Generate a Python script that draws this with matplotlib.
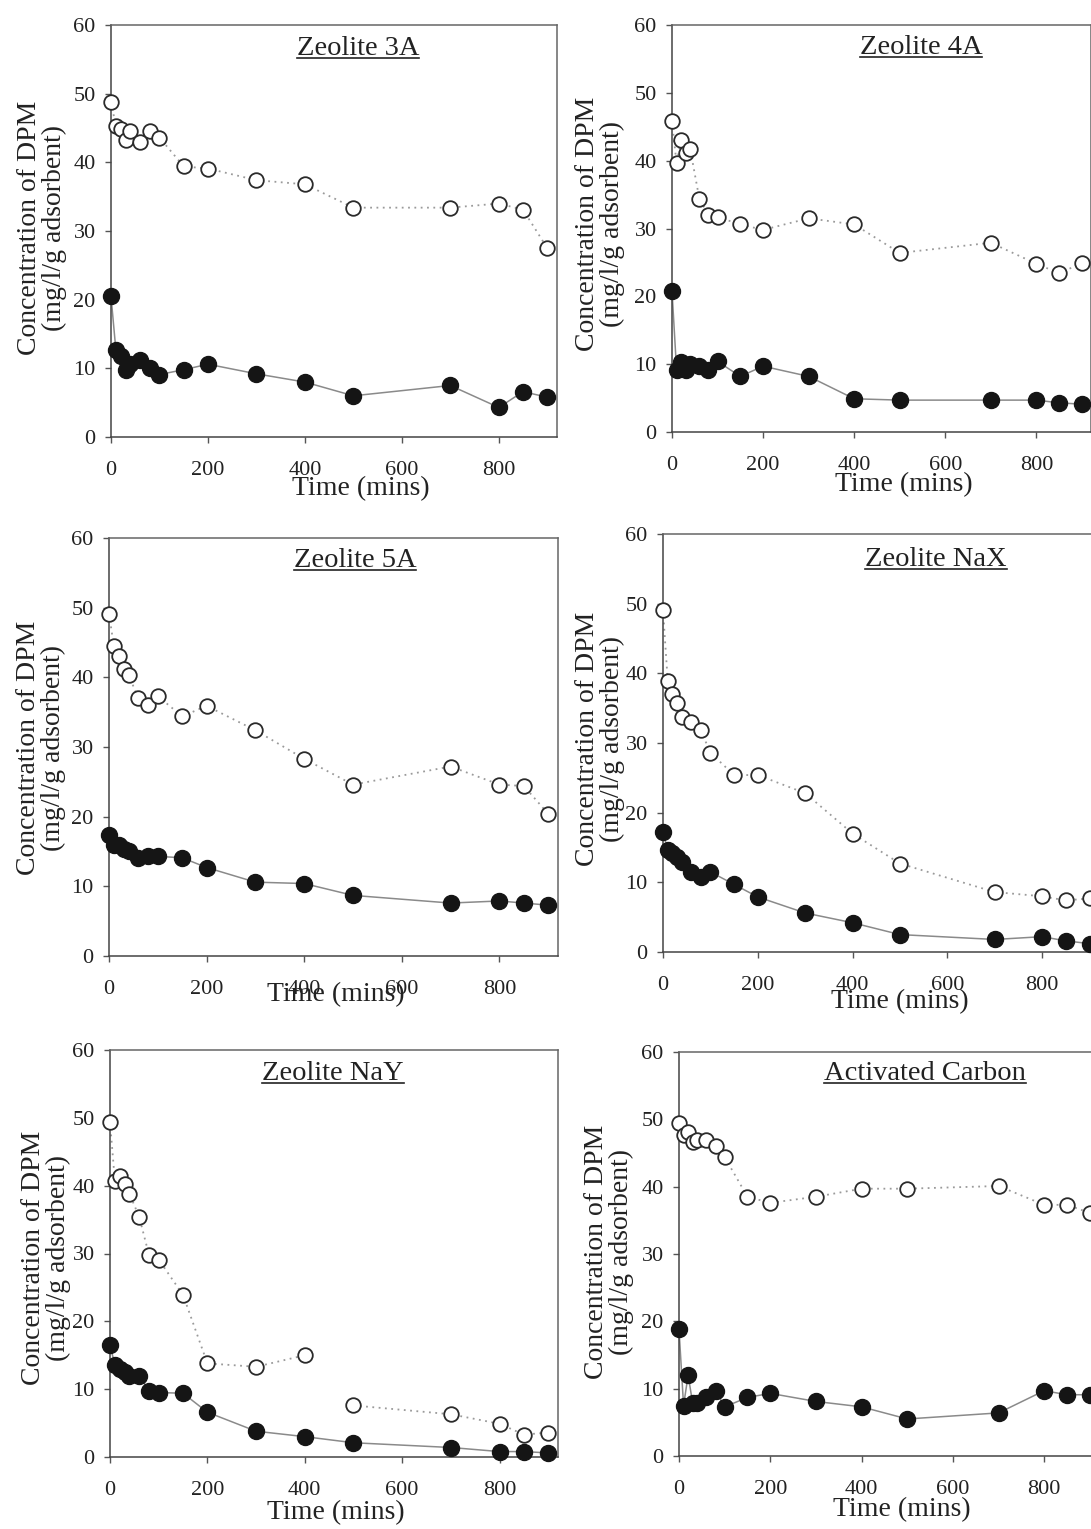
import numpy as np
import matplotlib.pyplot as plt
from matplotlib.lines import Line2D

W, H = 1091, 1529

# sampling times (mins), same for every adsorbent
time = [0, 10, 20, 30, 40, 60, 80, 100, 150, 200, 300, 400, 500, 700, 800, 850, 900]

# open circles (upper series) and filled circles (lower series)
open_3a = [48.8, 45.3, 44.8, 43.3, 44.5, 43.0, 44.5, 43.6, 39.4, 39.1, 37.4, 36.8, 33.4, 33.4, 34.0, 33.1, 27.5]
fill_3a = [20.5, 12.7, 11.8, 9.8, 10.7, 11.2, 10.0, 9.1, 9.8, 10.6, 9.2, 8.0, 6.0, 7.5, 4.3, 6.6, 5.8]

open_4a = [45.8, 39.6, 43.1, 41.1, 41.7, 34.4, 32.0, 31.7, 30.6, 29.8, 31.5, 30.6, 26.4, 27.9, 24.8, 23.4, 24.9]
fill_4a = [20.8, 9.2, 10.3, 9.1, 10.0, 9.8, 9.1, 10.4, 8.2, 9.7, 8.2, 4.9, 4.7, 4.7, 4.7, 4.3, 4.1]

open_5a = [49.1, 44.5, 43.0, 41.2, 40.4, 37.0, 36.1, 37.3, 34.4, 35.9, 32.4, 28.3, 24.6, 27.2, 24.6, 24.4, 20.4]
fill_5a = [17.4, 16.0, 16.0, 15.3, 15.1, 14.0, 14.3, 14.3, 14.1, 12.7, 10.6, 10.4, 8.7, 7.6, 7.9, 7.6, 7.3]

open_nax = [49.1, 38.9, 37.0, 35.8, 33.8, 33.0, 31.8, 28.6, 25.4, 25.4, 22.8, 17.0, 12.7, 8.6, 8.0, 7.4, 7.7]
fill_nax = [17.2, 14.6, 14.2, 13.6, 12.9, 11.5, 10.8, 11.5, 9.7, 7.9, 5.6, 4.2, 2.5, 1.8, 2.2, 1.6, 1.2]

open_nay = [49.4, 40.7, 41.4, 40.3, 38.8, 35.4, 29.8, 29.1, 23.9, 13.8, 13.3, 15.0, 7.6, 6.3, 4.9, 3.3, 3.6]
fill_nay = [16.5, 13.6, 13.0, 12.6, 11.9, 12.0, 9.8, 9.5, 9.4, 6.6, 3.8, 3.0, 2.1, 1.4, 0.8, 0.8, 0.6]

open_ac = [49.4, 47.6, 48.1, 46.6, 46.9, 46.9, 46.1, 44.4, 38.5, 37.6, 38.5, 39.7, 39.7, 40.1, 37.3, 37.3, 36.1]
fill_ac = [18.8, 7.5, 12.0, 7.8, 7.8, 8.8, 9.7, 7.3, 8.7, 9.3, 8.1, 7.3, 5.5, 6.4, 9.7, 9.1, 9.1]

titles = ["Zeolite 3A", "Zeolite 4A", "Zeolite 5A", "Zeolite NaX", "Zeolite NaY", "Activated Carbon"]
open_data = [open_3a, open_4a, open_5a, open_nax, open_nay, open_ac]
fill_data = [fill_3a, fill_4a, fill_5a, fill_nax, fill_nay, fill_ac]

x_ticks = [0, 200, 400, 600, 800]
y_ticks = [0, 10, 20, 30, 40, 50, 60]

# layout in pixels: left, right, top, bottom of plot box
boxes = [(111, 557, 25, 437), (672, 1091, 25, 432),
         (109, 558, 538, 956), (663, 1099, 534, 952),
         (110, 558, 1050, 1457), (679, 1099, 1052, 1456)]
# title centre (axes fraction), x label centre (axes fraction x, px below axis), y label centre px
title_pos = [(0.554, 0.944), (0.594, 0.944), (0.548, 0.945), (0.626, 0.938), (0.498, 0.943), (0.586, 0.948)]
xlab_pos = [(0.56, 52), (0.553, 53), (0.506, 39), (0.544, 50), (0.504, 56), (0.531, 54)]
ylab_pos = [(42, 228), (600, 224), (41, 748), (600, 739), (46, 1258), (609, 1252)]

plt.rcParams['font.family'] = ['Liberation Serif', 'DejaVu Serif']
txt_col = '#222222'


def px(x, y):
    return x / W, 1 - y / H


fig = plt.figure(figsize=(W / 100, H / 100), dpi=100)
fig.patch.set_facecolor('white')

title_texts = []
for i in range(6):
    l, r, t, b = boxes[i]
    ax = fig.add_axes([l / W, 1 - b / H, (r - l) / W, (b - t) / H])
    ax.set_xlim(0, 920)
    ax.set_ylim(0, 60)

    # lower series: solid grey line, filled circles
    ax.plot(time, fill_data[i], color='#8a8a8a', lw=1.1, zorder=2, clip_on=False)
    ax.plot(time, fill_data[i], ls='none', marker='o', ms=11.5, mfc='#151515', mec='#151515',
            zorder=4, clip_on=False)

    # upper series: dotted grey line, open circles
    if i == 4:
        # the dotted line is broken between 400 and 500 in the original
        ax.plot(time[:12], open_data[i][:12], color='#9a9a9a', lw=1.3, ls=(0, (1, 2.5)), zorder=2)
        ax.plot(time[12:], open_data[i][12:], color='#9a9a9a', lw=1.3, ls=(0, (1, 2.5)), zorder=2)
    else:
        ax.plot(time, open_data[i], color='#9a9a9a', lw=1.3, ls=(0, (1, 2.5)), zorder=2, clip_on=False)
    ax.plot(time, open_data[i], ls='none', marker='o', ms=10.5, mfc='white', mec='#2a2a2a', mew=1.3,
            zorder=5, clip_on=False)

    for s in ax.spines.values():
        s.set_color('#666666')
        s.set_linewidth(1.1)
    ax.spines['left'].set_color('#444444')
    ax.spines['bottom'].set_color('#444444')

    ax.set_xticks(x_ticks)
    ax.set_yticks(y_ticks)
    ax.tick_params(axis='both', direction='out', length=4, width=1, color='#555555',
                   labelsize=16, labelcolor=txt_col)
    ax.tick_params(axis='x', pad=13)
    ax.tick_params(axis='y', pad=7)

    tt = ax.text(title_pos[i][0], title_pos[i][1], titles[i], transform=ax.transAxes,
                 ha='center', va='center', fontsize=20.5, color=txt_col)
    title_texts.append(tt)

    xc = l + xlab_pos[i][0] * (r - l)
    fig.text(*px(xc, b + xlab_pos[i][1]), "Time (mins)", ha='center', va='center',
             fontsize=20, color=txt_col)
    fig.text(*px(*ylab_pos[i]), "Concentration of DPM\n(mg/l/g adsorbent)", rotation=90,
             ha='center', va='center', fontsize=20, color=txt_col, linespacing=0.95,
             multialignment='center')

# underline the panel titles
fig.canvas.draw()
rend = fig.canvas.get_renderer()
for tt in title_texts:
    bb = tt.get_window_extent(rend)
    yline = (bb.y0 + 3) / H
    fig.add_artist(Line2D([bb.x0 / W, bb.x1 / W], [yline, yline], transform=fig.transFigure,
                          color=txt_col, lw=1.2))

plt.savefig("out.png", dpi=100)
